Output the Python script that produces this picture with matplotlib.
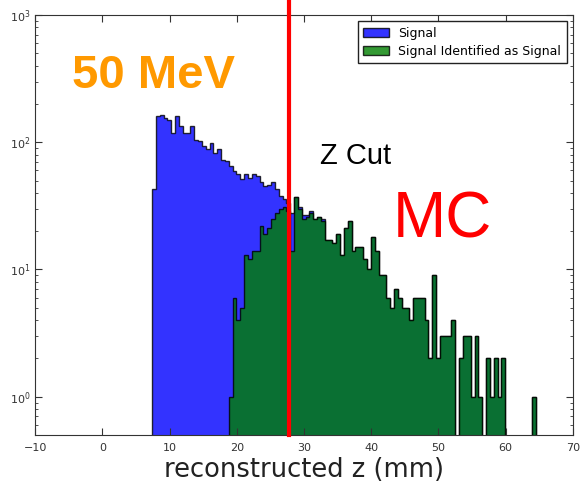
import numpy as np
import matplotlib
matplotlib.use("Agg")
import matplotlib.pyplot as plt

# ---- data (counts per bin) ----
z_min, z_max, n_bins = 7.4, 64.5, 100

signal_counts = [
    43, 160, 165, 155, 150, 118, 160, 133, 118, 118,
    133, 105, 102, 93, 88, 99, 82, 88, 73, 71,
    65, 59, 56, 51, 56, 52, 56, 54, 49, 45,
    46, 49, 43, 38, 36, 33, 28, 37, 31, 27,
    27, 29, 25, 26, 25, 17, 17, 16, 19, 13,
    21, 24, 14, 15, 15, 12, 10, 18, 14, 9,
    9, 6, 5, 7, 6, 5, 5, 4, 6, 6,
    6, 4, 2, 9, 2, 3, 3, 3, 4, 0,
    2, 3, 3, 1, 3, 1, 0, 2, 1, 2,
    1, 2, 0, 0, 0, 0, 0, 0, 0, 1,
]
identified_counts = [
    0, 0, 0, 0, 0, 0, 0, 0, 0, 0,
    0, 0, 0, 0, 0, 0, 0, 0, 0, 0,
    1, 6, 4, 5, 13, 12, 14, 14, 22, 19,
    21, 25, 28, 30, 31, 29, 14, 37, 30, 25,
    26, 28, 25, 26, 24, 17, 17, 16, 19, 13,
    21, 24, 14, 15, 15, 12, 10, 18, 14, 9,
    9, 6, 5, 7, 6, 5, 5, 4, 6, 6,
    6, 4, 2, 9, 2, 3, 3, 3, 4, 0,
    2, 3, 3, 1, 3, 1, 0, 2, 1, 2,
    1, 2, 0, 0, 0, 0, 0, 0, 0, 1,
]
z_cut = 27.7
x_ticks = [-10, 0, 10, 20, 30, 40, 50, 60, 70]
legend_labels = ["Signal", "Signal Identified as Signal"]

edges = np.linspace(z_min, z_max, n_bins + 1)
centers = 0.5 * (edges[:-1] + edges[1:])

fig = plt.figure(figsize=(5.84, 4.83), dpi=100)
ax = fig.add_axes([0.060, 0.0994, 0.921, 0.8696])

ax.hist(centers, bins=edges, weights=signal_counts, histtype="stepfilled",
        facecolor="b", edgecolor="k", linewidth=1.0, alpha=0.8,
        label=legend_labels[0], log=True)
ax.hist(centers, bins=edges, weights=identified_counts, histtype="stepfilled",
        facecolor="g", edgecolor="k", linewidth=1.0, alpha=0.8,
        label=legend_labels[1], log=True)

ax.set_yscale("log")
ax.set_ylim(0.5, 1000)
ax.set_xlim(-10, 70)
ax.set_xticks(x_ticks)

ax.axvline(z_cut, ymin=0, ymax=1.036, color="red", linewidth=3, clip_on=False, zorder=5)

for s in ax.spines.values():
    s.set_color("#333333")
ax.tick_params(which="both", direction="in", top=True, right=True,
               labelsize=8, labelcolor="#333333", color="#333333")
ax.tick_params(which="major", length=5)
ax.tick_params(which="minor", length=2.5)
ax.tick_params(axis="x", pad=6)

ax.set_xlabel("reconstructed z (mm)", fontsize=18.5, color="#222222", labelpad=3)

leg = ax.legend(loc="upper right", fontsize=9, fancybox=False, edgecolor="#222222",
                framealpha=1, borderaxespad=0.5, handlelength=2.1, handletextpad=0.7,
                borderpad=0.45, labelspacing=0.4)
leg.get_frame().set_linewidth(1.0)

ax.text(0.069, 0.826, "50 MeV", transform=ax.transAxes, fontsize=34,
        fontweight="bold", color="#FF9900", family="Liberation Sans", va="baseline")
ax.text(0.530, 0.645, "Z Cut", transform=ax.transAxes, fontsize=21,
        color="black", family="Liberation Sans", va="baseline")
ax.text(0.665, 0.470, "MC", transform=ax.transAxes, fontsize=46,
        color="red", family="Liberation Sans", va="baseline")

fig.savefig("out.png", dpi=100)
